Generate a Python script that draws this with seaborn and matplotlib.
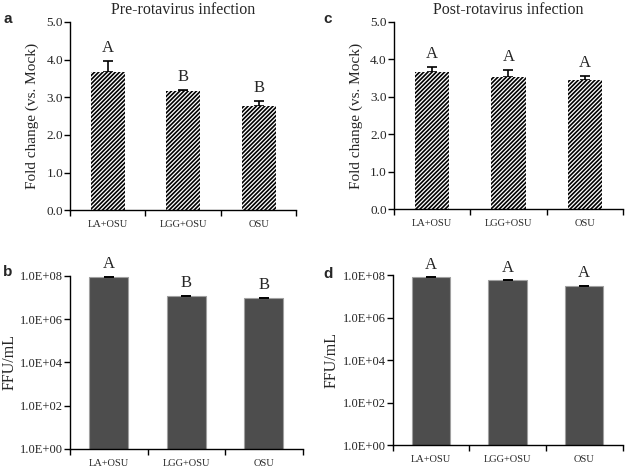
import seaborn as sns
import matplotlib.pyplot as plt
import numpy as np

sns.set_theme(style="ticks")
plt.rcParams['font.family'] = ['Liberation Serif', 'DejaVu Serif']
plt.rcParams['hatch.linewidth'] = 1.2

groups = ["LA+OSU", "LGG+OSU", "OSU"]

# fold change (vs. Mock)
pre_fold = [3.68, 3.17, 2.78]
pre_fold_err = [0.29, 0.03, 0.11]
post_fold = [3.67, 3.53, 3.44]
post_fold_err = [0.13, 0.19, 0.13]

# FFU/mL
pre_ffu = [9.0e7, 1.2e7, 9.5e6]
pre_ffu_err = [0.1e7, 0.03e7, 0.02e7]
post_ffu = [8.0e7, 5.6e7, 3.1e7]
post_ffu_err = [0.1e7, 0.08e7, 0.05e7]

pre_letters = ["A", "B", "B"]
post_letters = ["A", "A", "A"]

fold_ticks = [0, 1, 2, 3, 4, 5]
fold_ticklabels = ["0.0", "1.0", "2.0", "3.0", "4.0", "5.0"]
ffu_ticks = [1e0, 1e2, 1e4, 1e6, 1e8]
ffu_ticklabels = ["1.0E+00", "1.0E+02", "1.0E+04", "1.0E+06", "1.0E+08"]

fig = plt.figure(figsize=(6.25, 4.67), dpi=100)
ax_a = fig.add_axes([0.112, 0.550, 0.362, 0.403])
ax_b = fig.add_axes([0.112, 0.039, 0.372, 0.370])
ax_c = fig.add_axes([0.630, 0.552, 0.367, 0.401])
ax_d = fig.add_axes([0.628, 0.047, 0.368, 0.364])


def style_axis(ax, ysize):
    sns.despine(ax=ax)
    ax.set_xlim(-0.5, 2.5)
    ax.set_xticks([0, 1, 2])
    ax.set_xticklabels(groups, fontsize=7.5)
    ax.tick_params(axis="x", which="major", length=0, pad=7)
    ax.set_xticks([-0.5, 0.5, 1.5, 2.5], minor=True)
    ax.tick_params(axis="x", which="minor", length=4, width=1, color="black", direction="out")
    ax.tick_params(axis="y", length=4, width=1, color="black", direction="out", labelsize=ysize, pad=1)
    for s in ["left", "bottom"]:
        ax.spines[s].set_color("black")
        ax.spines[s].set_linewidth(1)
    ax.set_xlabel("")


def fold_panel(ax, vals, errs, letters, title):
    sns.barplot(x=groups, y=vals, ax=ax, color="white", width=0.45, saturation=1,
                edgecolor="black", linewidth=0, hatch="////////", zorder=2)
    ax.errorbar([0, 1, 2], vals, yerr=[np.zeros(3), errs], fmt="none", zorder=1,
                ecolor="black", elinewidth=1.2, capsize=3.5, capthick=1.2)
    for i, (v, e, t) in enumerate(zip(vals, errs, letters)):
        ax.text(i, v + e + 0.13, t, ha="center", va="bottom", fontsize=12)
    ax.set_ylim(0, 5)
    ax.set_yticks(fold_ticks)
    ax.set_yticklabels(fold_ticklabels)
    ax.set_ylabel("Fold change (vs. Mock)", fontsize=11, labelpad=5)
    ax.set_title(title, fontsize=11.5, pad=6)
    style_axis(ax, 9.5)


def ffu_panel(ax, vals, errs, letters):
    ax.set_yscale("log")
    sns.barplot(x=groups, y=vals, ax=ax, color="#4d4d4d", width=0.5, saturation=1,
                edgecolor="#a0a0a0", linewidth=0.8, zorder=1)
    ax.errorbar([0, 1, 2], vals, yerr=[np.zeros(3), errs], fmt="none", zorder=2,
                ecolor="black", elinewidth=1, capsize=3.5, capthick=1.2, clip_on=False)
    for i, (v, e, t) in enumerate(zip(vals, errs, letters)):
        ax.text(i, (v + e) * 1.6, t, ha="center", va="bottom", fontsize=12)
    ax.set_ylim(1, 1e8)
    ax.set_yticks(ffu_ticks)
    ax.set_yticklabels(ffu_ticklabels)
    ax.minorticks_off()
    ax.set_ylabel("FFU/mL", fontsize=11.5, labelpad=2)
    style_axis(ax, 9)


fold_panel(ax_a, pre_fold, pre_fold_err, pre_letters, "Pre-rotavirus infection")
fold_panel(ax_c, post_fold, post_fold_err, post_letters, "Post-rotavirus infection")
ffu_panel(ax_b, pre_ffu, pre_ffu_err, pre_letters)
ffu_panel(ax_d, post_ffu, post_ffu_err, post_letters)

for lab, (x, y) in zip(["a", "c", "b", "d"], [(0.005, 0.95), (0.517, 0.95), (0.005, 0.41), (0.517, 0.405)]):
    fig.text(x, y, lab, fontsize=11, fontweight="bold", family=["Liberation Sans", "DejaVu Sans"])

fig.savefig("out.png", dpi=100)
